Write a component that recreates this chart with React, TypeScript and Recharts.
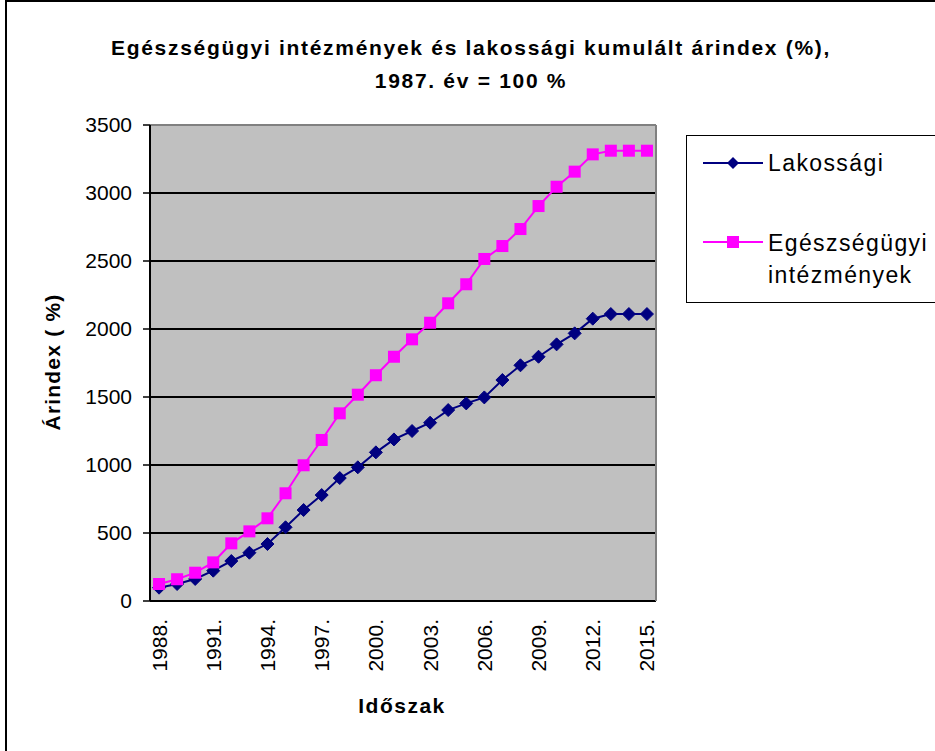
import React from "react";
import { LineChart, Line, XAxis, YAxis, CartesianGrid, ReferenceLine } from "recharts";

const years = [
  1988, 1989, 1990, 1991, 1992, 1993, 1994, 1995, 1996, 1997, 1998, 1999, 2000, 2001,
  2002, 2003, 2004, 2005, 2006, 2007, 2008, 2009, 2010, 2011, 2012, 2013, 2014, 2015,
];
const lakossagi = [
  98, 125, 162, 223, 294, 355, 419, 542, 669, 779, 904, 983, 1093, 1188,
  1250, 1311, 1404, 1453, 1497, 1625, 1733, 1796, 1887, 1968, 2076, 2110, 2110, 2110,
];
const egeszsegugyi = [
  125, 160, 208, 284, 424, 512, 608, 792, 998, 1184, 1380, 1517, 1660, 1796,
  1924, 2046, 2189, 2329, 2515, 2610, 2735, 2904, 3046, 3157, 3284, 3311, 3311, 3311,
];
const labelYears = [1988, 1991, 1994, 1997, 2000, 2003, 2006, 2009, 2012, 2015];
const yTicks = [0, 500, 1000, 1500, 2000, 2500, 3000, 3500];

const FONT = '"Liberation Sans", Arial, sans-serif';
const NAVY = "#000080";
const MAGENTA = "#FF00FF";

const data = years.map((year, i) => ({
  year,
  lakossagi: lakossagi[i],
  egeszsegugyi: egeszsegugyi[i],
}));
// tick marks sit between categories, like Excel does
const boundaries = [...years.map((y) => y - 0.5), years[years.length - 1] + 0.5];
const xDomain = [boundaries[0], boundaries[boundaries.length - 1]];

function diamond(props: any) {
  const { cx, cy, index } = props;
  if (cx == null || cy == null) return <g key={`d-${index}`} />;
  const r = 6.5;
  return (
    <polygon
      key={`d-${index}`}
      points={`${cx},${cy - r} ${cx + r},${cy} ${cx},${cy + r} ${cx - r},${cy}`}
      fill={NAVY}
      stroke={NAVY}
    />
  );
}

function square(props: any) {
  const { cx, cy, index } = props;
  if (cx == null || cy == null) return <g key={`s-${index}`} />;
  return <rect key={`s-${index}`} x={cx - 6} y={cy - 6} width={12} height={12} fill={MAGENTA} />;
}

function YearTick(props: any) {
  const { x, y, payload } = props;
  return (
    <text
      transform={`translate(${x},${y + 18}) rotate(-90)`}
      textAnchor="end"
      dy="0.355em"
      fontSize={21}
      fontFamily={FONT}
      fill="#000"
    >
      {payload.value}.
    </text>
  );
}

function LegendBox() {
  return (
    <div
      style={{
        position: "absolute",
        left: 686,
        top: 135,
        width: 270,
        height: 166,
        border: "1.5px solid #000",
        background: "#fff",
        fontFamily: FONT,
        fontSize: 23,
        letterSpacing: 1.4,
        color: "#000",
      }}
    >
      <svg style={{ position: "absolute", left: 0, top: 0 }} width={80} height={166}>
        <line x1={16} y1={27} x2={76} y2={27} stroke={NAVY} strokeWidth={2} />
        <polygon points="46,21 52,27 46,33 40,27" fill={NAVY} />
        <line x1={16} y1={106} x2={76} y2={106} stroke={MAGENTA} strokeWidth={2} />
        <rect x={40} y={100} width={12} height={12} fill={MAGENTA} />
      </svg>
      <div style={{ position: "absolute", left: 81, top: 13, lineHeight: "28px" }}>Lakossági</div>
      <div style={{ position: "absolute", left: 81, top: 91, lineHeight: "32px" }}>
        Egészségügyi
        <br />
        intézmények
      </div>
    </div>
  );
}

export default function App() {
  return (
    <div
      style={{
        position: "absolute",
        left: 0,
        top: 0,
        width: 935,
        height: 751,
        overflow: "hidden",
        background: "#fff",
        fontFamily: FONT,
      }}
    >
      <div
        style={{
          position: "absolute",
          left: 5,
          top: 0,
          width: 940,
          height: 760,
          borderTop: "2px solid #000",
          borderLeft: "2px solid #000",
        }}
      />
      <div
        style={{
          position: "absolute",
          left: 0,
          top: 31,
          width: 942,
          textAlign: "center",
          fontWeight: "bold",
          fontSize: 21,
          letterSpacing: 1.7,
          lineHeight: "33px",
          color: "#000",
        }}
      >
        Egészségügyi intézmények és lakossági kumulált árindex (%),
        <br />
        1987. év = 100 %
      </div>

      <LineChart
        width={935}
        height={751}
        data={data}
        margin={{ top: 125, right: 279, bottom: 70, left: 0 }}
      >
        <CartesianGrid
          xAxisId="ticks"
          vertical={false}
          stroke="#000"
          strokeWidth={2}
          fill="#C0C0C0"
          fillOpacity={1}
        />
        <XAxis
          xAxisId="ticks"
          dataKey="year"
          type="number"
          domain={xDomain}
          ticks={boundaries}
          interval={0}
          tick={false}
          tickSize={6}
          height={0}
          axisLine={{ stroke: "#000", strokeWidth: 2 }}
          tickLine={{ stroke: "#000", strokeWidth: 1.5 }}
        />
        <XAxis
          xAxisId="lab"
          dataKey="year"
          type="number"
          domain={xDomain}
          ticks={labelYears}
          interval={0}
          tick={<YearTick />}
          tickSize={0}
          tickMargin={0}
          tickLine={false}
          axisLine={false}
          height={80}
        />
        <YAxis
          domain={[0, 3500]}
          ticks={yTicks}
          interval={0}
          width={150}
          tickSize={7}
          tickMargin={11}
          axisLine={{ stroke: "#000", strokeWidth: 2 }}
          tickLine={{ stroke: "#000", strokeWidth: 1.5 }}
          tick={{ fill: "#000", fontSize: 21, fontFamily: FONT }}
        />
        <ReferenceLine xAxisId="lab" y={3500} stroke="#808080" strokeWidth={2} />
        <ReferenceLine xAxisId="lab" x={2015.5} stroke="#808080" strokeWidth={2} />
        <Line
          xAxisId="lab"
          type="linear"
          dataKey="lakossagi"
          name="Lakossági"
          stroke={NAVY}
          strokeWidth={2}
          dot={diamond}
          activeDot={false}
          isAnimationActive={false}
        />
        <Line
          xAxisId="lab"
          type="linear"
          dataKey="egeszsegugyi"
          name="Egészségügyi intézmények"
          stroke={MAGENTA}
          strokeWidth={2}
          dot={square}
          activeDot={false}
          isAnimationActive={false}
        />
      </LineChart>

      <div
        style={{
          position: "absolute",
          left: 53,
          top: 362,
          transform: "translate(-50%, -50%) rotate(-90deg)",
          whiteSpace: "nowrap",
          fontWeight: "bold",
          fontSize: 21,
          letterSpacing: 1.2,
          color: "#000",
        }}
      >
        Árindex ( %)
      </div>
      <div
        style={{
          position: "absolute",
          left: 402,
          top: 706,
          transform: "translate(-50%, -50%)",
          whiteSpace: "nowrap",
          fontWeight: "bold",
          fontSize: 21,
          letterSpacing: 1.5,
          color: "#000",
        }}
      >
        Időszak
      </div>
      <LegendBox />
    </div>
  );
}
